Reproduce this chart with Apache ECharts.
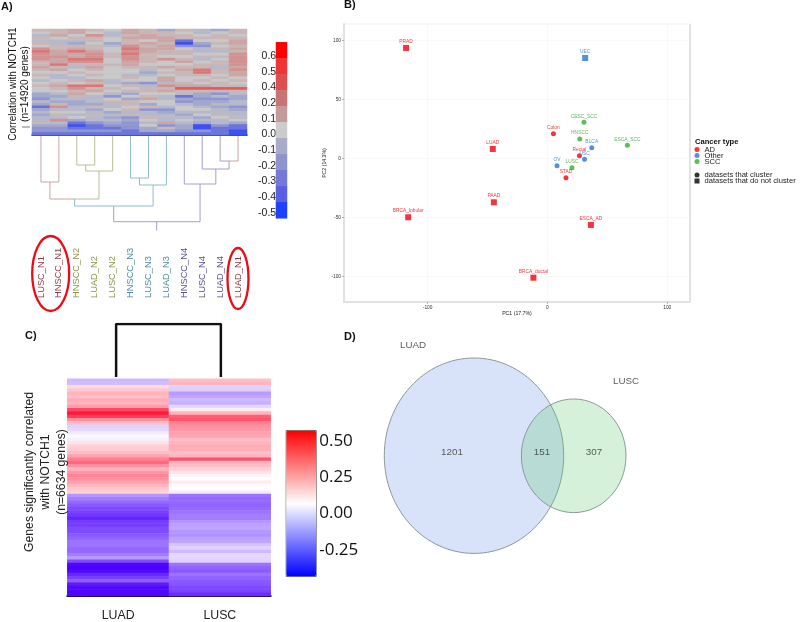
<!DOCTYPE html>
<html><head><meta charset="utf-8">
<style>html,body{margin:0;padding:0;background:#fff}#c{width:800px;height:622px}</style>
<script src="https://cdn.jsdelivr.net/npm/echarts@6/dist/echarts.min.js"></script>
</head><body><div id="c"></div>
<script>
// ---------- Panel A ----------
const samplesA = ['LUSC_N1','HNSCC_N1','HNSCC_N2','LUAD_N2','LUSC_N2','HNSCC_N3','LUSC_N3','LUAD_N3','HNSCC_N4','LUSC_N4','LUAD_N4','LUAD_N1'];
const sampleColorsA = ['#8e3a46','#8e3a46','#8b9447','#8b9447','#8b9447','#4d8ba0','#4d8ba0','#4d8ba0','#5c4c8e','#5c4c8e','#5c4c8e','#8e3a46'];
// correlation x10, one row per gene band, top to bottom
const heatRowsA = [
[1,1,2,1,0,2,1,-2,1,-1,-2,1],[0,1,2,0,-1,2,1,1,0,-1,0,1],[-1,2,0,3,-1,1,2,1,1,0,1,0],[1,0,1,1,0,2,2,2,1,1,1,1],
[-1,-1,-1,1,0,1,0,2,-4,0,0,2],[1,-1,-2,0,-2,1,2,1,-5,-2,1,2],[0,1,1,1,-1,3,1,2,-3,-3,0,1],[3,1,2,1,0,4,2,2,0,-1,1,2],
[4,2,4,2,0,3,2,1,1,-1,-1,1],[3,2,2,3,1,4,1,1,1,0,0,3],[3,3,2,3,1,3,1,0,0,1,1,3],[3,2,4,4,0,3,1,3,1,-1,0,3],
[1,2,3,3,0,2,1,0,2,0,1,3],[1,4,1,1,1,2,0,0,0,1,1,3],[2,1,-1,2,0,1,1,2,1,1,-1,2],[1,2,0,1,0,0,-1,0,2,4,1,3],
[0,0,1,0,0,0,-2,1,1,4,1,2],[1,-1,0,1,0,-1,-1,0,1,1,0,2],[0,-1,-1,0,0,1,0,2,0,0,1,0],[-1,0,1,2,-1,0,0,2,0,1,0,1],
[0,1,0,1,-1,-2,-3,-1,1,0,1,0],[1,2,4,4,0,1,-1,3,2,2,1,1],[0,1,3,1,1,0,1,1,5,5,5,5],[0,0,1,2,0,1,1,2,1,1,1,1],
[-2,-1,2,0,-1,-2,0,0,-1,-2,-3,-1],[-2,-2,1,-1,-3,0,1,-1,-4,-2,-1,-2],[-3,-1,-1,-1,0,-2,2,-1,-2,-3,-3,-2],[-1,-2,-2,-1,1,1,0,0,-3,-2,-2,-1],
[-2,1,-2,-2,-1,1,-2,0,-1,-2,-1,-1],[-4,3,-1,1,-1,0,1,-1,0,-1,-2,-3],[-2,-1,-1,-2,0,1,-3,-3,0,0,-1,-2],[-1,0,0,-1,-2,-1,-1,-2,-1,-1,-1,-1],
[-2,1,-1,1,-1,1,-1,-1,-2,0,1,-1],[-1,-1,0,-1,-2,-3,1,-1,-1,-2,0,-1],[-1,3,-2,-1,-1,-2,0,-1,0,-1,-1,0],[1,-1,-4,-3,-2,-3,-1,2,-1,-2,-1,-2],
[-2,-2,-5,-4,-3,-3,0,-3,-2,-5,-3,-4],[-3,-3,-4,-4,-4,-3,-2,1,-2,-5,-4,-4],[-3,-3,-3,-3,-3,-4,-2,-2,-3,-3,-4,-5],[-4,-4,-4,-4,-4,-4,-4,-4,-4,-4,-4,-5]];
const scaleStepsA = [6,5,4,2,1,0,-1,-2,-3,-4,-5];
const scaleLabelsA = ['0.60','0.50','0.40','0.20','0.10','0.00','-0.10','-0.20','-0.30','-0.40','-0.50'];
const scaleColorsA = ['#2040ff','#5a60e4','#7479d6','#8f95cc','#a9acc9','#cccccc','#c49a9a','#c97474','#d26262','#dd5050','#ee3636','#ff0000'];
const heatColorsA = ['#3d50f0','#6a74dc','#8e95d0','#a2a7cc','#b6b8cb','#c8c8ca','#c9b6b6','#cca6a6','#d39292','#da7878','#e25a5a','#ff2020'];
// dendrogram: x = sample position, h = drop below the heatmap
const dendroRosy = [[[0,0],[0,46],[1,46],[1,0]],[[.5,46],[.5,63],[1.88,63]],[[10.5,25],[11,25],[11,0]]];
const dendroOlive = [[[2,0],[2,29],[3,29],[3,0]],[[2.5,29],[2.5,35],[4,35],[4,0]],[[3.24,35],[3.24,63],[1.88,63]]];
const dendroTeal = [[[5,0],[5,42],[6,42],[6,0]],[[5.5,42],[5.5,49],[7,49],[7,0]],[[6.26,49],[6.26,70],[1.88,70],[1.88,63]]];
const dendroPurple = [[[10,0],[10,25],[10.5,25]],[[9,0],[9,33],[10.5,33],[10.5,25]],[[8,0],[8,48],[9.76,48],[9.76,33]],[[8.88,48],[8.88,85.7],[4.06,85.7],[4.06,70]],[[6.46,85.7],[6.46,94.7]]];

// ---------- Panel B ----------
const pointsAD = [[-118,93.5,'PRAD','rect'],[-45.6,7.9,'LUAD','rect'],[5,20.8,'Colon','circle'],[26.7,2.2,'Rectal','circle'],[15.5,-16.4,'STAD','circle'],[36.3,-56.5,'ESCA_AD','rect'],[-44.7,-37.3,'PAAD','rect'],[-116.2,-50,'BRCA_lobular','rect'],[-11.7,-101.2,'BRCA_ductal','rect']];
const pointsOther = [[31.5,85,'UEC','rect'],[37,9,'BLCA','circle'],[31,-0.8,'USC','circle'],[8,-6.3,'OV','circle']];
const pointsSCC = [[30.5,30.5,'CESC_SCC','circle'],[27,16.4,'HNSCC','circle'],[66.7,11,'ESCA_SCC','circle'],[20.5,-8,'LUSC','circle']];
const pcTicksX = [-100,0,100];
const pcTicksY = [100,50,0,-50,-100];

// ---------- Panel C ----------
const samplesC = ['LUAD','LUSC'];
const heatLUAD = [-.08,-.07,.14,.18,.22,.2,.24,.22,.27,.45,.55,.47,.3,.2,-.03,-.02,.02,.05,.03,.12,.16,.17,.2,.26,.33,.38,.3,.22,.28,.32,.3,.26,.22,.18,.16,-.15,-.2,-.24,-.27,-.3,-.32,-.34,-.38,-.33,-.33,-.3,-.3,-.27,-.25,-.22,-.22,-.24,-.24,-.2,-.14,-.3,-.44,-.45,-.43,-.37,-.32,-.26,-.4,-.43,-.44,-.44];
const heatLUSC = [.2,.22,-.03,-.04,-.14,-.12,-.08,-.1,-.02,.1,.22,.4,.42,.33,.3,.28,.26,.25,.2,.22,.24,.23,.2,.22,.43,.22,.2,.16,.12,.04,.06,.1,.05,.06,.02,-.22,-.24,-.24,-.25,-.24,-.22,-.2,-.2,-.15,-.13,-.12,-.15,-.16,-.13,-.12,-.06,-.03,-.08,-.02,-.02,-.03,-.22,-.25,-.27,-.22,-.25,-.27,-.28,-.3,-.32,-.36];
const scaleTicksC = [.5,.25,0,-.25];
const dendroC = [[-.02,0],[-.02,53],[1.01,53],[1.01,0]];

// ---------- Panel D ----------
const vennSets = [[104,125.7,89.7,97.7],[203.7,125.8,52.3,56.8]];
const vennLabels = [[43,15.7,'LUAD'],[256,51,'LUSC'],[82,122.7,'1201'],[172,122.7,'151'],[224,122.7,'307']];

// ---------- Assembly ----------
const FONT = 'Liberation Sans';
const hidden = {show:false};
const grid = [
  {left:32,top:29,width:215,height:106},          //0 heat A
  {left:32,top:136,width:215,height:96},          //1 dendro A
  {left:32,top:298,width:215,height:1},           //2 sample labels A
  {left:276,top:42.3,width:11,height:176},        //3 scale A bar
  {left:276,top:48.2,width:11,height:172.3},      //4 scale A labels
  {left:344,top:24,width:346,height:278,show:true,borderColor:'#efefef',borderWidth:1}, //5 PCA
  {left:67.3,top:378.7,width:203.4,height:218},   //6 heat C
  {left:67.3,top:324,width:203.4,height:53},      //7 dendro C
  {left:285.7,top:430,width:30,height:146},       //8 scale C axis
  {left:370,top:330,width:280,height:270}         //9 Venn
];
const rowIdxA = heatRowsA.map((_,i)=>i);
const rowIdxC = heatLUAD.map((_,i)=>i);
const xAxis = [
  {gridIndex:0,type:'category',data:samplesA,axisLabel:hidden,axisTick:hidden,axisLine:{lineStyle:{color:'#101030',width:1.5}}},
  {gridIndex:1,type:'value',min:-.5,max:11.5,show:false},
  {gridIndex:2,type:'category',position:'top',data:samplesA,axisLine:hidden,axisTick:hidden,
    axisLabel:{interval:0,rotate:90,margin:0,fontSize:9.3,fontFamily:FONT,color:(v,i)=>sampleColorsA[i]}},
  {gridIndex:3,type:'category',data:['s'],show:false},
  {gridIndex:4,type:'category',data:['s'],show:false},
  {gridIndex:5,type:'value',min:-169.8,max:119,interval:50,
    axisLine:{onZero:false,lineStyle:{color:'#e2e2e2',width:2}},
    axisTick:{length:2,lineStyle:{color:'#777',width:.5},customValues:pcTicksX},
    axisLabel:{fontSize:4.8,fontFamily:FONT,color:'#333',margin:3,customValues:pcTicksX},
    splitLine:{lineStyle:{color:'#f5f5f5',width:.6}},
    name:'PC1 (17.7%)',nameLocation:'middle',nameGap:8,nameTextStyle:{fontSize:5.2,fontFamily:FONT,color:'#222'}},
  {gridIndex:6,type:'category',data:samplesC,axisLine:{lineStyle:{color:'#111',width:2}},
    axisTick:{alignWithLabel:true,length:5,lineStyle:{color:'#333',width:1.5}},
    axisLabel:{fontSize:12.3,color:'#222',margin:14,fontFamily:FONT}},
  {gridIndex:7,type:'value',min:-.5,max:1.5,show:false},
  {gridIndex:8,type:'category',data:['s'],show:false},
  {gridIndex:9,type:'value',min:0,max:280,show:false}
];
const yAxis = [
  {gridIndex:0,type:'category',inverse:true,data:rowIdxA,show:false},
  {gridIndex:1,type:'value',inverse:true,min:0,max:96,show:false},
  {gridIndex:2,type:'value',show:false},
  {gridIndex:3,type:'category',inverse:true,data:scaleLabelsA,show:false},
  {gridIndex:4,type:'category',inverse:true,data:scaleLabelsA,axisLine:hidden,axisTick:hidden,
    axisLabel:{interval:0,fontSize:10.5,fontFamily:FONT,color:'#222',margin:-6}},
  {gridIndex:5,type:'value',min:-121.8,max:113.8,interval:25,
    axisLine:{onZero:false,lineStyle:{color:'#e2e2e2',width:2}},
    axisTick:{length:2,lineStyle:{color:'#777',width:.5},customValues:pcTicksY},
    axisLabel:{fontSize:4.8,fontFamily:FONT,color:'#333',margin:3,customValues:pcTicksY},
    splitLine:{lineStyle:{color:'#f5f5f5',width:.6}},
    name:'PC2 (14.3%)',nameLocation:'middle',nameGap:12,nameTextStyle:{fontSize:5.2,fontFamily:FONT,color:'#222'}},
  {gridIndex:6,type:'category',inverse:true,data:rowIdxC,show:false},
  {gridIndex:7,type:'value',min:0,max:53,show:false},
  {gridIndex:8,type:'value',position:'right',min:-.43,max:.574,
    axisLine:hidden,splitLine:hidden,
    axisTick:{length:3,lineStyle:{color:'#333',width:1},customValues:scaleTicksC},
    axisLabel:{fontSize:17,color:'#111',margin:3.5,fontFamily:'Open Sans',customValues:scaleTicksC,formatter:v=>v.toFixed(2)}},
  {gridIndex:9,type:'value',inverse:true,min:0,max:270,show:false}
];
const heatA = [];
heatRowsA.forEach((r,y)=>r.forEach((v,x)=>heatA.push([x,y,v])));
const heatC = [];
heatLUAD.forEach((v,y)=>heatC.push([0,y,v]));
heatLUSC.forEach((v,y)=>heatC.push([1,y,v]));
const linkSeries = (paths,color,ax,width)=>paths.map(p=>({type:'line',xAxisIndex:ax,yAxisIndex:ax,data:p,symbol:'none',silent:true,
  lineStyle:{color,width},z:3,animation:false}));
const pca = (name,color,data)=>({type:'scatter',name,xAxisIndex:5,yAxisIndex:5,data,color,itemStyle:{color},
  symbol:v=>v[3],symbolSize:v=>v[3]==='rect'?6:5,
  label:{show:true,position:'top',distance:1,fontSize:4.9,fontFamily:FONT,color,formatter:p=>p.value[2]}});
const vennFill = ['#d8e3f9','rgba(93,201,113,0.26)'];
const series = [
  {type:'heatmap',xAxisIndex:0,yAxisIndex:0,data:heatA,itemStyle:{borderWidth:0}},
  {type:'heatmap',xAxisIndex:3,yAxisIndex:3,data:scaleStepsA.map((v,i)=>[0,i,v])},
  {type:'heatmap',xAxisIndex:6,yAxisIndex:6,data:heatC},
  {type:'heatmap',xAxisIndex:8,yAxisIndex:8,data:[]},
  pca('AD','#f0000f',pointsAD),
  pca('Other','#2a78c2',pointsOther),
  pca('SCC','#3aaa35',pointsSCC),
  {type:'scatter',name:'datasets that cluster',xAxisIndex:5,yAxisIndex:5,data:[],itemStyle:{color:'#000'}},
  {type:'scatter',name:'datasets that do not cluster',xAxisIndex:5,yAxisIndex:5,data:[],itemStyle:{color:'#000'}},
  {type:'custom',xAxisIndex:9,yAxisIndex:9,data:vennSets,renderItem:(p,api)=>{
    const c = api.coord([api.value(0),api.value(1)]);
    const s = api.size([api.value(2),api.value(3)]);
    return {type:'ellipse',shape:{cx:c[0],cy:c[1],rx:s[0],ry:s[1]},
      style:{fill:vennFill[p.dataIndex],stroke:'#8a9a9a',lineWidth:1}};
  }},
  {type:'scatter',xAxisIndex:9,yAxisIndex:9,data:vennLabels,symbolSize:0,z:5,
    label:{show:true,position:'inside',fontSize:9.8,fontFamily:FONT,color:'#333',formatter:p=>p.value[2]}},
  ...linkSeries(dendroRosy,'#c9a5a5',1,1),
  ...linkSeries(dendroOlive,'#b8c096',1,1),
  ...linkSeries(dendroTeal,'#8fbccb',1,1),
  ...linkSeries(dendroPurple,'#a89fc5',1,1),
  ...linkSeries([dendroC],'#111',7,2.5)
];
const txt = (x,y,text,o={})=>({type:'text',x,y,rotation:o.rot||0,z:10,style:{text,fontFamily:FONT,fontSize:o.size||11,fontWeight:o.bold?'bold':'normal',fill:o.fill||'#111',textAlign:o.align||'left',textVerticalAlign:'middle',lineHeight:o.lh}});
const option = {
  animation:false,
  textStyle:{fontFamily:FONT},
  grid,xAxis,yAxis,series,
  visualMap:[
    {type:'continuous',show:false,seriesIndex:[0],min:-5,max:6,inRange:{color:heatColorsA}},
    {type:'continuous',show:false,seriesIndex:[1],min:-5,max:6,inRange:{color:scaleColorsA}},
    {type:'continuous',show:false,seriesIndex:[2],min:-.45,max:.57,inRange:{color:['#4b00ff','#ffffff','#ff1030']}},
    {type:'continuous',show:true,seriesIndex:[3],min:-.43,max:.574,left:285.7,top:430,itemWidth:30,itemHeight:146,padding:0,
      borderColor:'#666',borderWidth:1,text:null,showLabel:false,calculable:false,hoverLink:false,
      inRange:{color:['#0000ff','#ffffff','#ff0000']},textStyle:{fontSize:0},formatter:()=>''}
  ],
  legend:[
    {left:694.5,top:145.5,orient:'vertical',itemWidth:5,itemHeight:5,itemGap:-2,selectedMode:false,padding:0,
      textStyle:{fontSize:7.6,fontFamily:FONT,color:'#222'},
      data:[{name:'AD',icon:'circle'},{name:'Other',icon:'circle'},{name:'SCC',icon:'circle'}]},
    {left:694.5,top:171,orient:'vertical',itemWidth:5,itemHeight:5,itemGap:-2,selectedMode:false,padding:0,
      textStyle:{fontSize:7.6,fontFamily:FONT,color:'#222'},
      data:[{name:'datasets that cluster',icon:'circle'},{name:'datasets that do not cluster',icon:'rect'}]}
  ],
  graphic:[
    txt(1,7,'A)',{bold:true}),txt(344,5,'B)',{bold:true}),txt(25,336,'C)',{bold:true}),txt(344,337,'D)',{bold:true}),
    txt(19,84,'Correlation with NOTCH1\n(n=14920 genes)',{rot:Math.PI/2,size:10,align:'center',lh:12}),
    txt(46,472,'Genes significantly correlated\nwith NOTCH1\n(n=6634 genes)',{rot:Math.PI/2,size:12.2,align:'center',lh:16,fill:'#222'}),
    txt(695,141.7,'Cancer type',{bold:true,size:7.6,fill:'#111'}),
    {type:'line',z:10,shape:{x1:22,y1:127,x2:30,y2:127},style:{stroke:'#555',lineWidth:.8}},
    {type:'line',z:10,shape:{x1:690,y1:24,x2:690,y2:302},style:{stroke:'#e2e2e2',lineWidth:2}},
    {type:'ellipse',z:10,shape:{cx:50.7,cy:273.5,rx:18.5,ry:37.5},style:{fill:'none',stroke:'#ee0a14',lineWidth:2.3}},
    {type:'ellipse',z:10,shape:{cx:238,cy:278.5,rx:10.5,ry:30.5},style:{fill:'none',stroke:'#ee0a14',lineWidth:2.3}}
  ]
};
const chart = echarts.init(document.getElementById('c'),null,{renderer:'canvas'});
chart.setOption(option);
</script></body></html>
